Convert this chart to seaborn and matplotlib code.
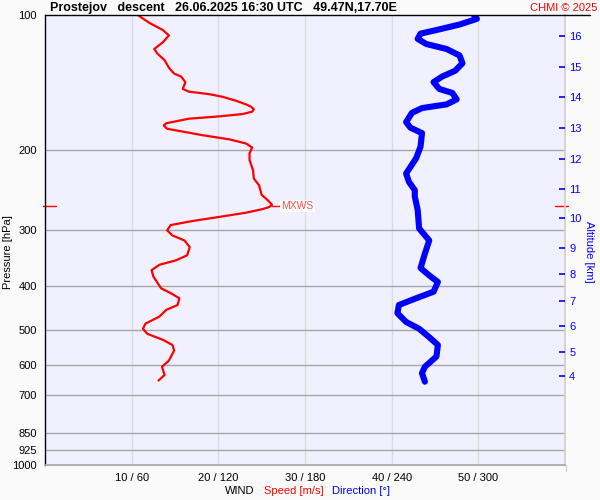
import matplotlib
matplotlib.use("Agg")
import matplotlib.pyplot as plt
from matplotlib.lines import Line2D
import seaborn as sns

# wind speed profile (pressure hPa, speed m/s)
wind_pressure = [100, 104, 108, 111, 115, 119, 122, 126, 131, 135,
                 137, 141, 146, 148, 150, 152, 155, 158, 160, 162,
                 164, 166, 168, 170, 174, 176, 179, 181, 185, 189,
                 193, 197, 203, 210, 221, 231, 239, 251, 258, 264,
                 267, 270, 275, 281, 287, 293, 301, 309, 317, 328,
                 342, 351, 359, 369, 381, 405, 415, 426, 441, 452,
                 468, 485, 498, 511, 527, 541, 557, 586, 605, 631,
                 649]
wind_speed = [10.7, 12.0, 13.6, 14.3, 13.6, 12.6, 13.0, 13.8, 14.3, 14.9,
              15.7, 16.2, 15.9, 16.6, 19.0, 20.5, 22.0, 23.2, 23.8, 24.1,
              23.9, 22.8, 20.1, 16.6, 14.0, 13.7, 14.1, 15.5, 18.2, 21.3,
              23.2, 23.9, 23.6, 23.6, 24.0, 24.1, 24.7, 25.0, 25.7, 26.2,
              25.9, 25.1, 23.2, 20.1, 17.0, 14.5, 14.1, 14.7, 16.1, 16.7,
              16.4, 15.1, 13.2, 12.3, 12.5, 13.4, 14.5, 15.5, 15.3, 14.0,
              13.2, 11.6, 11.3, 11.8, 13.6, 14.7, 14.9, 14.3, 13.5, 13.8,
              13.1]

# wind direction profile (pressure hPa, direction deg)
dir_pressure = [100, 102, 105, 108, 110, 113, 116, 119, 123, 128,
                133, 137, 141, 146, 149, 154, 158, 161, 165, 173,
                178, 183, 196, 208, 225, 235, 245, 253, 271, 298,
                317, 339, 365, 379, 392, 412, 426, 441, 460, 481,
                498, 520, 541, 574, 605, 625, 653]
wind_dir = [297, 299, 287, 271, 260, 258, 264, 278, 287, 289,
            284, 275, 269, 273, 282, 285, 278, 261, 254, 250,
            253, 261, 260, 257, 250, 252, 256, 256, 258, 259,
            266, 263, 260, 266, 272, 269, 257, 245, 244, 250,
            259, 266, 272, 271, 263, 261, 263]

max_wind_speed = 26.2
max_wind_pressure = 266

pressure_ticks = [100, 200, 300, 400, 500, 600, 700, 850, 925, 1000]
speed_ticks = [10, 20, 30, 40, 50]
dir_ticks = [60, 120, 180, 240, 300]
alt_km = [16, 15, 14, 13, 12, 11, 10, 9, 8, 7, 6, 5, 4]
alt_pressure = [111.2, 130.5, 152.4, 178.5, 209.3, 243.9, 282.6,
                328.9, 376.9, 431.4, 490.2, 561.7, 634.3]

sns.set_theme(style="white")
plt.rcParams['font.family'] = ['Liberation Sans', 'DejaVu Sans']
plt.rcParams['text.color'] = 'black'

W, H = 600, 500
fig = plt.figure(figsize=(6, 5), dpi=100, facecolor="#fafafa")
ax = fig.add_axes([45 / W, 35 / H, 520 / W, 450 / H])
ax.set_facecolor("#f0f0ff")

ax.set_yscale("log")
ax.set_ylim(1000, 100)
ax.set_xlim(0, 60)
ax.set_yticks(pressure_ticks)
ax.set_yticklabels([str(p) for p in pressure_ticks])
ax.yaxis.set_minor_locator(matplotlib.ticker.NullLocator())
ax.set_xticks(speed_ticks)
ax.set_xticklabels([f"{s} / {d}" for s, d in zip(speed_ticks, dir_ticks)])
ax.tick_params(axis="both", length=0, labelsize=8, colors="black")
ax.tick_params(axis="y", pad=6)
ax.tick_params(axis="x", pad=6)
ax.grid(axis="y", color="#a8a8a8", lw=1)
ax.grid(axis="x", color="#dcdcdc", lw=1)
for p in [100, 1000]:
    ax.yaxis.get_gridlines()[pressure_ticks.index(p)].set_visible(False)
ax.spines["left"].set_color("black")
ax.spines["left"].set_linewidth(1)
ax.spines["top"].set_visible(False)
ax.spines["right"].set_color("#d0d0d0")
ax.spines["bottom"].set_color("#a8a8a8")
ax.set_xlabel("")
ax.set_ylabel("")

sns.lineplot(x=wind_speed, y=wind_pressure, sort=False, estimator=None,
             color="#ff0000", lw=1.6, ax=ax,
             solid_joinstyle="round", solid_capstyle="round")

# direction on its own x scale (0-360)
ax2 = ax.twiny()
ax2.set_xlim(0, 360)
ax2.set_xticks([])
for s in ax2.spines.values():
    s.set_visible(False)
sns.lineplot(x=wind_dir, y=dir_pressure, sort=False, estimator=None,
             color="#0000ff", lw=4.4, ax=ax2,
             solid_joinstyle="round", solid_capstyle="round")
ax2.set_xlabel("")
ax2.set_ylabel("")

# altitude axis
ax3 = ax.twinx()
ax3.set_yscale("log")
ax3.set_ylim(1000, 100)
ax3.set_yticks(alt_pressure)
ax3.set_yticklabels([str(a) for a in alt_km])
ax3.yaxis.set_minor_locator(matplotlib.ticker.NullLocator())
ax3.tick_params(axis="y", direction="in", length=4, width=1.2, color="#0000ff",
                labelcolor="#0000ff", labelsize=8, pad=3)
for s in ax3.spines.values():
    s.set_visible(False)
ax3.grid(False)

# max wind marker
yt = ax.get_yaxis_transform()
ax.plot([-2 / 520, 11 / 520], [max_wind_pressure] * 2, color="#ff0000", lw=1,
        transform=yt, clip_on=False)
ax.plot([510 / 520, 523 / 520], [max_wind_pressure] * 2, color="#ff0000", lw=1,
        transform=yt, clip_on=False)
ax.plot([max_wind_speed, max_wind_speed + 0.9], [max_wind_pressure] * 2,
        color="#ff0000", lw=1)
ax.text(max_wind_speed + 1.1, max_wind_pressure, "MXWS", color="#ff5050",
        fontsize=7.5, va="center", ha="left",
        bbox=dict(facecolor="white", edgecolor="none", pad=0.8))

# top frame line and right edge extension
fig.add_artist(Line2D([45 / W, 590 / W], [1 - 15 / H] * 2, color="black", lw=1))
fig.add_artist(Line2D([565.5 / W] * 2, [1 - 465 / H, 1 - 471 / H], color="#d0d0d0", lw=1))

fig.text(50 / W, 1 - 8 / H, "Prostejov   descent   26.06.2025 16:30 UTC   49.47N,17.70E",
         fontsize=9, fontweight="bold", ha="left", va="center")
fig.text(597 / W, 1 - 8 / H, "CHMI © 2025", fontsize=8, color="#ff0000",
         ha="right", va="center")
fig.text(8 / W, 1 - 252 / H, "Pressure [hPa]", fontsize=8, rotation=90,
         ha="center", va="center")
fig.text(589 / W, 1 - 252 / H, "Altitude [km]", fontsize=8, rotation=270,
         color="#0000ff", ha="center", va="center")
fig.text(225 / W, 1 - 491 / H, "WIND", fontsize=8, ha="left", va="center")
fig.text(264 / W, 1 - 491 / H, "Speed [m/s]", fontsize=8, color="#ff0000",
         ha="left", va="center")
fig.text(332 / W, 1 - 491 / H, "Direction [°]", fontsize=8, color="#0000ff",
         ha="left", va="center")

fig.savefig("out.png", dpi=100, facecolor=fig.get_facecolor())
